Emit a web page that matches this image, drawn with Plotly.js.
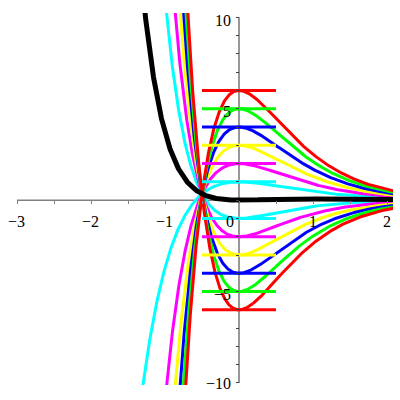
<!DOCTYPE html>
<html>
<head>
<meta charset="utf-8">
<script src="https://cdn.plot.ly/plotly-3.0.1.min.js"></script>
<style>html,body{margin:0;padding:0;background:#fff;}#chart{width:400px;height:400px;}</style>
</head>
<body>
<div id="chart"></div>
<script>
// Family of curves: y = (k(1+2x) + x^2/2) e^(-2x),
// each with a horizontal tangent at y = k when x = 0 (k = 0 is the thick black curve).
const kValues = [1, 2, 3, 4, 5, 6];
const curveColors = ['#00FFFF', '#FF00FF', '#FFFF00', '#0000FF', '#00FF00', '#FF0000'];
const tangentSpan = [-0.5, 0.5];
const xTickValues = [-3, -2, -1, 0, 1, 2];
const xTickLabels = ['\u22123', '\u22122', '\u22121', '0', '1', '2'];
const yTickValues = [-10, -5, 5, 10];
const yTickLabels = ['\u221210', '\u22125', '5', '10'];

const xRange = [-3, 2.081];
const yRange = [-10.11, 10.235];

function curve(k, x) { return (k * (1 + 2 * x) + x * x / 2) * Math.exp(-2 * x); }

const xs = [];
for (let i = 0; i <= 1000; i++) xs.push(-1.6 + i * (xRange[1] + 0.02 + 1.6) / 1000);

const traces = [];
kValues.forEach((k, i) => {
  [k, -k].forEach(kk => {
    traces.push({x: xs, y: xs.map(x => curve(kk, x)), mode: 'lines', type: 'scatter',
      line: {color: curveColors[i], width: 3}, hoverinfo: 'skip'});
  });
});
kValues.forEach((k, i) => {
  [k, -k].forEach(kk => {
    traces.push({x: tangentSpan, y: [curve(kk, 0), curve(kk, 0)], mode: 'lines', type: 'scatter',
      line: {color: curveColors[i], width: 3}, hoverinfo: 'skip'});
  });
});
traces.push({x: xs, y: xs.map(x => curve(0, x)), mode: 'lines', type: 'scatter',
  line: {color: '#000000', width: 5}, hoverinfo: 'skip'});

const font = {family: 'Liberation Serif, Times New Roman, serif', size: 16, color: '#000'};
const annotations = [];
xTickValues.forEach((v, i) => {
  annotations.push({x: v, y: 0, xref: 'x', yref: 'y', text: xTickLabels[i], showarrow: false,
    xanchor: 'center', yanchor: 'middle', yshift: -21, xshift: v === 0 ? -9 : (v < 0 ? -1 : 0), font: font});
});
yTickValues.forEach((v, i) => {
  annotations.push({x: 0, y: v, xref: 'x', yref: 'y', text: yTickLabels[i], showarrow: false,
    xanchor: 'right', yanchor: 'middle', xshift: -6, yshift: v === -10 ? -1 : -3, font: font});
});

const layout = {
  width: 400, height: 400,
  margin: {l: 17, r: 7, t: 13, b: 15, pad: 0},
  paper_bgcolor: '#fff', plot_bgcolor: '#fff',
  showlegend: false,
  font: font,
  xaxis: {range: xRange, showgrid: false, zeroline: false, showline: false,
    ticks: 'outside', tick0: -3, dtick: 0.5, ticklen: 3, tickwidth: 1, tickcolor: '#808080',
    showticklabels: false, anchor: 'free', position: (0 - yRange[0]) / (yRange[1] - yRange[0])},
  yaxis: {range: yRange, showgrid: false, zeroline: false, showline: false,
    ticks: 'outside', tick0: 0, dtick: 1, ticklen: 3, tickwidth: 1, tickcolor: '#404040',
    showticklabels: false, anchor: 'free', position: (0 - xRange[0]) / (xRange[1] - xRange[0])},
  shapes: [
    {type: 'line', xref: 'x', yref: 'y', x0: xRange[0], x1: xRange[1], y0: 0, y1: 0,
      line: {color: '#808080', width: 1.5}, layer: 'below'},
    {type: 'line', xref: 'x', yref: 'y', x0: 0, x1: 0, y0: -10, y1: 10,
      line: {color: '#303030', width: 1}, layer: 'below'}
  ],
  annotations: annotations
};

Plotly.newPlot('chart', traces, layout, {staticPlot: true, displayModeBar: false});
</script>
</body>
</html>
